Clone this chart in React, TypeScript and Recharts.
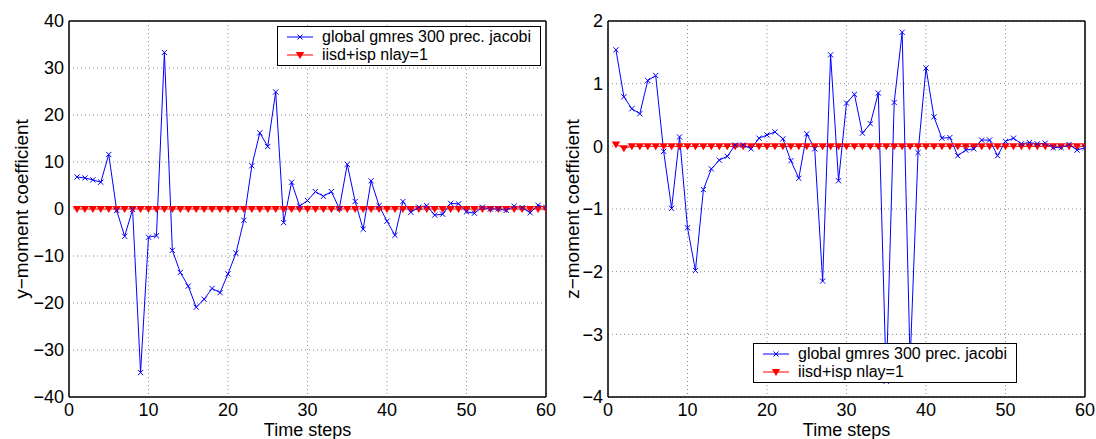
import React from "react";
import { LineChart, Line, XAxis, YAxis, CartesianGrid, Legend, Label } from "recharts";

const STEPS = [
  1, 2, 3, 4, 5, 6, 7, 8, 9, 10, 11, 12, 13, 14, 15, 16, 17, 18, 19, 20,
  21, 22, 23, 24, 25, 26, 27, 28, 29, 30, 31, 32, 33, 34, 35, 36, 37, 38, 39, 40,
  41, 42, 43, 44, 45, 46, 47, 48, 49, 50, 51, 52, 53, 54, 55, 56, 57, 58, 59, 60,
];

// y-moment coefficient
const Y_GMRES = [
  6.8, 6.6, 6.2, 5.7, 11.6, -0.3, -5.8, -0.1, -34.8, -6.0,
  -5.7, 33.3, -8.8, -13.5, -16.4, -20.9, -19.2, -16.9, -17.8, -13.8,
  -9.4, -2.4, 9.2, 16.2, 13.3, 24.9, -2.9, 5.7, 0.6, 1.8,
  3.7, 2.7, 3.7, 0.1, 9.5, 1.6, -4.3, 6.0, 0.7, -2.6,
  -5.6, 1.6, -0.7, 0.4, 0.7, -1.3, -1.1, 1.2, 1.1, -0.6,
  -0.9, 0.4, 0.0, 0.0, -0.3, 0.6, 0.3, -0.8, 0.8, 0.3,
];
const Y_IISD = [
  0, 0, 0, 0, 0, 0, 0, 0, 0, 0,
  0, 0, 0, 0, 0, 0, 0, 0, 0, 0,
  0, 0, 0, 0, 0, 0, 0, 0, 0, 0,
  0, 0, 0, 0, 0, 0, 0, 0, 0, 0,
  0, 0, 0, 0, 0, 0, 0, 0, 0, 0,
  0, 0, 0, 0, 0, 0, 0, 0, 0, 0,
];

// z-moment coefficient
const Z_GMRES = [
  1.54, 0.79, 0.6, 0.52, 1.05, 1.13, -0.08, -0.99, 0.15, -1.3,
  -1.98, -0.69, -0.36, -0.22, -0.16, 0.02, 0.02, -0.04, 0.13, 0.18,
  0.23, 0.12, -0.23, -0.51, 0.2, -0.04, -2.15, 1.46, -0.55, 0.69,
  0.83, 0.21, 0.36, 0.85, -3.75, 0.7, 1.82, -3.45, -0.1, 1.25,
  0.47, 0.13, 0.14, -0.15, -0.06, -0.04, 0.1, 0.1, -0.15, 0.08,
  0.13, 0.04, 0.06, 0.04, 0.05, -0.02, -0.02, 0.03, -0.06, -0.02,
];
const Z_IISD = [
  0.03, -0.03, 0, 0, 0, 0, 0, 0, 0, 0,
  0, 0, 0, 0, 0, 0, 0, 0, 0, 0,
  0, 0, 0, 0, 0, 0, 0, 0, 0, 0,
  0, 0, 0, 0, 0, 0, 0, 0, 0, 0,
  0, 0, 0, 0, 0, 0, 0, 0, 0, 0,
  0, 0, 0, 0, 0, 0, 0, 0, 0, 0,
];

const X_TICKS = [0, 10, 20, 30, 40, 50, 60];
const Y_TICKS = [-40, -30, -20, -10, 0, 10, 20, 30, 40];
const Z_TICKS = [-4, -3, -2, -1, 0, 1, 2];

const SERIES_NAMES = ["global gmres 300 prec. jacobi", "iisd+isp nlay=1"];
const X_TITLE = "Time steps";
const Y_TITLE = "y\u2212moment coefficient";
const Z_TITLE = "z\u2212moment coefficient";

const BLUE = "#0000ff";
const RED = "#ff0000";
const FONT = "'Liberation Sans', Arial, Helvetica, sans-serif";

const fmt = (v: number) => (v < 0 ? `\u2212${Math.abs(v)}` : `${v}`);

const cross = (p: any) => {
  const { cx, cy, index } = p;
  if (cx == null || cy == null) return <g key={`c${index}`} />;
  const s = 2.6;
  return (
    <path
      key={`c${index}`}
      d={`M${cx - s},${cy - s}L${cx + s},${cy + s}M${cx - s},${cy + s}L${cx + s},${cy - s}`}
      stroke={BLUE}
      strokeWidth={1}
      fill="none"
    />
  );
};

const triangle = (p: any) => {
  const { cx, cy, index } = p;
  if (cx == null || cy == null) return <g key={`t${index}`} />;
  return (
    <path
      key={`t${index}`}
      d={`M${cx - 4.2},${cy - 3}L${cx + 4.2},${cy - 3}L${cx},${cy + 4}Z`}
      fill={RED}
      stroke="none"
    />
  );
};

function LegendBox() {
  const rows = [
    { name: SERIES_NAMES[0], color: BLUE, marker: "x" },
    { name: SERIES_NAMES[1], color: RED, marker: "v" },
  ];
  return (
    <div
      style={{
        width: 264,
        height: 40,
        boxSizing: "border-box",
        border: "1.5px solid #000",
        background: "#fff",
        padding: "1px 0 0 8px",
        fontFamily: FONT,
        fontSize: 16,
        color: "#000",
      }}
    >
      {rows.map((r) => (
        <div key={r.name} style={{ display: "flex", alignItems: "center", height: 18 }}>
          <svg width={28} height={18} style={{ display: "block" }}>
            <line x1={1} y1={9} x2={27} y2={9} stroke={r.color} strokeWidth={1} />
            {r.marker === "x" ? (
              <path d="M11.5,6.5L16.5,11.5M11.5,11.5L16.5,6.5" stroke={r.color} strokeWidth={1} />
            ) : (
              <path d="M9.8,6L18.2,6L14,13Z" fill={r.color} />
            )}
          </svg>
          <span style={{ marginLeft: 8, whiteSpace: "nowrap", lineHeight: "18px" }}>{r.name}</span>
        </div>
      ))}
    </div>
  );
}

type PanelProps = {
  gmres: number[];
  iisd: number[];
  yTicks: number[];
  yTitle: string;
  width: number;
  marginRight: number;
  titleX: number;
  legendLeft: number;
  legendTop: number;
};

function Panel({ gmres, iisd, yTicks, yTitle, width, marginRight, titleX, legendLeft, legendTop }: PanelProps) {
  const data = STEPS.map((t, i) => ({ t, gmres: gmres[i], iisd: iisd[i] }));
  const yDomain = [yTicks[0], yTicks[yTicks.length - 1]];
  const border = { stroke: "#000", strokeWidth: 1.5 };
  const tickLine = { stroke: "#000", strokeWidth: 1 };
  return (
    <LineChart
      width={width}
      height={439}
      data={data}
      margin={{ top: 21, right: marginRight, bottom: 0, left: 0 }}
      style={{ fontFamily: FONT }}
    >
      <CartesianGrid xAxisId="main" yAxisId="main" stroke="#8a8a8a" strokeDasharray="1 3" strokeWidth={1} />
      <XAxis
        xAxisId="main"
        type="number"
        dataKey="t"
        domain={[0, 60]}
        ticks={X_TICKS}
        interval={0}
        allowDataOverflow
        height={42}
        tickLine={false}
        tickSize={0}
        tickMargin={6}
        axisLine={border}
        tick={{ fontSize: 18, fill: "#000" }}
      >
        <Label
          content={(p: any) => {
            const vb = p.viewBox || {};
            return (
              <text x={vb.x + vb.width / 2} y={435.5} textAnchor="middle" fontSize={18} fill="#000">
                {X_TITLE}
              </text>
            );
          }}
        />
      </XAxis>
      <XAxis
        xAxisId="top"
        orientation="top"
        mirror
        type="number"
        domain={[0, 60]}
        ticks={X_TICKS}
        interval={0}
        allowDataOverflow
        height={1}
        tickSize={5}
        tick={false}
        tickLine={tickLine}
        axisLine={border}
      />
      <XAxis
        xAxisId="bottomIn"
        orientation="bottom"
        mirror
        type="number"
        domain={[0, 60]}
        ticks={X_TICKS}
        interval={0}
        allowDataOverflow
        height={1}
        tickSize={5}
        tick={false}
        tickLine={tickLine}
        axisLine={false}
      />
      <YAxis
        yAxisId="main"
        type="number"
        domain={yDomain}
        ticks={yTicks}
        interval={0}
        allowDataOverflow
        width={69}
        tickLine={false}
        tickSize={0}
        tickMargin={5}
        axisLine={border}
        tickFormatter={fmt}
        tick={{ fontSize: 18, fill: "#000" }}
      >
        <Label
          content={(p: any) => {
            const vb = p.viewBox || {};
            const cy = vb.y + vb.height / 2;
            return (
              <text
                x={titleX}
                y={cy}
                transform={`rotate(-90, ${titleX}, ${cy})`}
                textAnchor="middle"
                fontSize={19}
                fill="#000"
              >
                {yTitle}
              </text>
            );
          }}
        />
      </YAxis>
      <YAxis
        yAxisId="right"
        orientation="right"
        mirror
        type="number"
        domain={yDomain}
        ticks={yTicks}
        interval={0}
        allowDataOverflow
        width={1}
        tickSize={5}
        tick={false}
        tickLine={tickLine}
        axisLine={border}
      />
      <YAxis
        yAxisId="leftIn"
        orientation="left"
        mirror
        type="number"
        domain={yDomain}
        ticks={yTicks}
        interval={0}
        allowDataOverflow
        width={1}
        tickSize={5}
        tick={false}
        tickLine={tickLine}
        axisLine={false}
      />
      <Legend
        layout="vertical"
        verticalAlign="middle"
        align="center"
        wrapperStyle={{ left: legendLeft, top: legendTop, width: 264 }}
        content={() => <LegendBox />}
      />
      <Line
        xAxisId="main"
        yAxisId="main"
        type="linear"
        dataKey="iisd"
        name={SERIES_NAMES[1]}
        stroke={RED}
        strokeWidth={1}
        dot={triangle}
        activeDot={false}
        isAnimationActive={false}
      />
      <Line
        xAxisId="main"
        yAxisId="main"
        type="linear"
        dataKey="gmres"
        name={SERIES_NAMES[0]}
        stroke={BLUE}
        strokeWidth={1}
        dot={cross}
        activeDot={false}
        isAnimationActive={false}
      />
    </LineChart>
  );
}

export default function App() {
  return (
    <div
      style={{
        position: "absolute",
        left: 0,
        top: 0,
        width: 1096,
        height: 439,
        background: "#fff",
        fontFamily: FONT,
      }}
    >
      <div style={{ position: "absolute", left: 0, top: 0 }}>
        <Panel
          gmres={Y_GMRES}
          iisd={Y_IISD}
          yTicks={Y_TICKS}
          yTitle={Y_TITLE}
          width={560}
          marginRight={14}
          titleX={28}
          legendLeft={277}
          legendTop={26}
        />
      </div>
      <div style={{ position: "absolute", left: 539, top: 0 }}>
        <Panel
          gmres={Z_GMRES}
          iisd={Z_IISD}
          yTicks={Z_TICKS}
          yTitle={Z_TITLE}
          width={557}
          marginRight={11}
          titleX={40}
          legendLeft={214}
          legendTop={343}
        />
      </div>
    </div>
  );
}
